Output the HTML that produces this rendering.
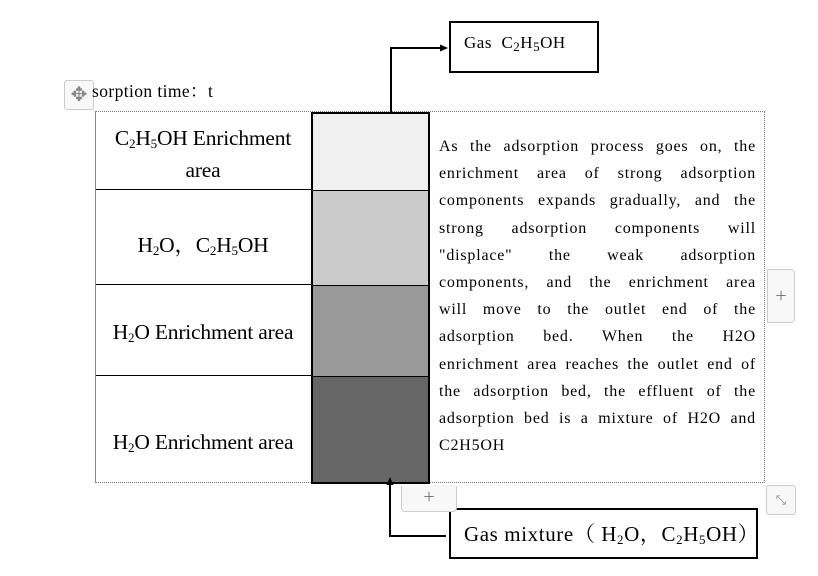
<!DOCTYPE html>
<html><head><style>
body{margin:0;width:818px;height:576px;background:#fff;position:relative;overflow:hidden;font-family:"Liberation Serif","Noto Serif CJK SC",serif;color:#000}
.a{position:absolute}
.lbl{position:absolute;left:96px;width:214px;text-align:center;font-size:21.5px;line-height:32px;letter-spacing:-0.2px}
sub{font-size:13px;vertical-align:-3px;line-height:0}
.p div{text-align:justify;text-align-last:justify;height:27.2px;white-space:nowrap}
.p div.l{text-align-last:left}
</style></head><body>
<div class="a" style="left:95px;top:111px;width:670px;height:372px;border:1px dotted #777;box-sizing:border-box"></div>
<div class="a" style="left:95px;top:189px;width:216px;height:1px;background:#000"></div>
<div class="a" style="left:95px;top:284px;width:216px;height:1px;background:#000"></div>
<div class="a" style="left:95px;top:375px;width:216px;height:1px;background:#000"></div>
<div class="a" style="left:95px;top:111px;width:1px;height:372px;background:#888"></div>
<div class="a" style="left:311px;top:112px;width:119px;height:372px;border:2px solid #000;box-sizing:border-box;overflow:hidden">
 <div style="height:76px;background:#f0f0f0;border-bottom:1px solid #000"></div>
 <div style="height:94px;background:#cbcbcb;border-bottom:1px solid #000"></div>
 <div style="height:90px;background:#999;border-bottom:1px solid #000"></div>
 <div style="height:110px;background:#666"></div>
</div>
<div class="lbl" style="top:122px">C<sub>2</sub>H<sub>5</sub>OH Enrichment<br>area</div>
<div class="lbl" style="top:229px">H<sub>2</sub>O，C<sub>2</sub>H<sub>5</sub>OH</div>
<div class="lbl" style="top:316px">H<sub>2</sub>O Enrichment area</div>
<div class="lbl" style="top:426px">H<sub>2</sub>O Enrichment area</div>
<div class="a p" style="left:439px;top:133px;width:317px;font-size:16px;line-height:27.2px;letter-spacing:0.8px">
<div>As the adsorption process goes on, the</div>
<div>enrichment area of strong adsorption</div>
<div>components expands gradually, and the</div>
<div>strong adsorption components will</div>
<div>"displace" the weak adsorption</div>
<div>components, and the enrichment area</div>
<div>will move to the outlet end of the</div>
<div>adsorption bed. When the H2O</div>
<div>enrichment area reaches the outlet end of</div>
<div>the adsorption bed, the effluent of the</div>
<div>adsorption bed is a mixture of H2O and</div>
<div class="l">C2H5OH</div>
</div>
<div class="a" style="left:64px;top:80px;width:28px;height:28px;border:1px solid #ccc;border-radius:3px;background:#f8f8f8;color:#888;font-size:20px;line-height:28px;text-align:center">✥</div>
<div class="a" style="left:92px;top:80px;font-size:17.5px;line-height:22px;letter-spacing:0.4px">sorption time：t</div>
<div class="a" style="left:449px;top:21px;width:150px;height:52px;border:2px solid #000;box-sizing:border-box;font-size:17px;padding:10px 0 0 13px;letter-spacing:0.5px">Gas&nbsp; C<sub>2</sub>H<sub>5</sub>OH</div>
<svg class="a" style="left:0;top:0" width="818" height="576">
<polyline points="391,112 391,48 442,48" fill="none" stroke="#000" stroke-width="2"/>
<polygon points="448,48 440,44.5 440,51.5" fill="#000"/>
<polyline points="390,484 390,536 446,536" fill="none" stroke="#000" stroke-width="2"/>
<polygon points="390,477 386.5,485 393.5,485" fill="#000"/>
</svg>
<div class="a" style="left:449px;top:508px;width:309px;height:51px;border:2px solid #000;box-sizing:border-box;font-size:21px;padding:8px 0 0 13px;background:#fff;letter-spacing:0.6px;white-space:nowrap">Gas mixture（ H<sub>2</sub>O，C<sub>2</sub>H<sub>5</sub>OH）</div>
<div class="a" style="left:401px;top:486px;width:54px;height:25px;border:1px solid #ccc;border-top:none;border-radius:0 0 4px 4px;background:#f8f8f8;color:#777;font-size:20px;line-height:22px;text-align:center">+</div>
<div class="a" style="left:767px;top:269px;width:26px;height:52px;border:1px solid #ccc;border-radius:0 4px 4px 0;background:#f8f8f8;color:#777;font-size:20px;line-height:52px;text-align:center">+</div>
<div class="a" style="left:766px;top:485px;width:28px;height:28px;border:1px solid #ccc;border-radius:3px;background:#f8f8f8;color:#888;font-size:13px;line-height:28px;text-align:center">⤡</div>
</body></html>
